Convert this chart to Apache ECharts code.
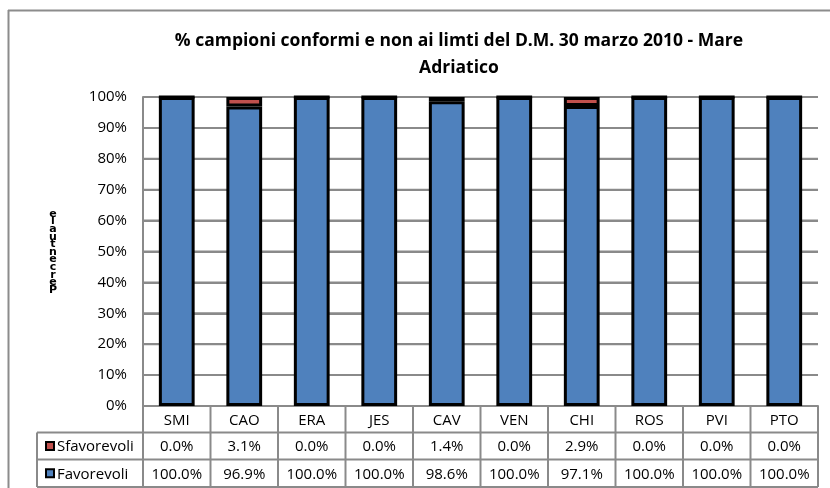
<!DOCTYPE html>
<html>
<head>
<meta charset="utf-8">
<script src="https://cdn.jsdelivr.net/npm/echarts@6/dist/echarts.min.js"></script>
<style>
  html, body { margin: 0; padding: 0; background: #fff; }
  #chart { width: 830px; height: 488px; }
</style>
</head>
<body>
<div id="chart"></div>
<script>
// siti di campionamento
const siti = ['SMI', 'CAO', 'ERA', 'JES', 'CAV', 'VEN', 'CHI', 'ROS', 'PVI', 'PTO'];
const sfavorevoli = [0.0, 3.1, 0.0, 0.0, 1.4, 0.0, 2.9, 0.0, 0.0, 0.0];
const favorevoli = [100.0, 96.9, 100.0, 100.0, 98.6, 100.0, 97.1, 100.0, 100.0, 100.0];
const yTicks = [10, 20, 30, 40, 50, 60, 70, 80, 90, 100];

const FONT = '"Open Sans", Lato, sans-serif';
const GRAY = '#8a8a8a';
const BLUE = '#4F81BD';
const RED = '#C0504D';

const chart = echarts.init(document.getElementById('chart'));

chart.setOption({
  animation: false,
  title: {
    text: '% campioni conformi e non ai limti del D.M. 30 marzo 2010 - Mare\nAdriatico',
    left: 454,
    top: 23,
    textAlign: 'center',
    textStyle: { fontFamily: FONT, fontSize: 17.5, fontWeight: 'bold', color: '#000', lineHeight: 27 }
  },
  grid: { left: 143, right: 12, top: 97, bottom: 82 },
  xAxis: {
    type: 'category',
    data: siti,
    axisLine: { lineStyle: { color: GRAY, width: 2 } },
    axisTick: { show: false },
    axisLabel: { show: false }
  },
  yAxis: {
    type: 'value',
    min: 0,
    max: 100,
    interval: 10,
    axisLine: { show: true, lineStyle: { color: GRAY, width: 2 } },
    axisTick: { show: false },
    axisLabel: { formatter: '{value}%', fontFamily: FONT, fontSize: 15, color: '#000', margin: 16 },
    splitLine: { show: true, lineStyle: { color: GRAY, width: 2 } }
  },
  series: [
    {
      name: 'Favorevoli',
      type: 'bar',
      stack: 'tot',
      zlevel: 2,
      barWidth: '53%',
      data: favorevoli,
      itemStyle: { color: BLUE, borderColor: '#000', borderWidth: 3 }
    },
    {
      name: 'Sfavorevoli',
      type: 'bar',
      stack: 'tot',
      zlevel: 2,
      data: sfavorevoli,
      itemStyle: { color: RED, borderColor: '#000', borderWidth: 3 }
    }
  ]
});

// griglia orizzontale + tabella dati sotto il grafico
function buildTable() {
  const yTop = chart.convertToPixel({ yAxisIndex: 0 }, 0);
  const rows = [yTop, 432.5, 459.5, 487];
  const xs = siti.map((s, i) => chart.convertToPixel({ xAxisIndex: 0 }, i));
  const band = xs.length > 1 ? xs[1] - xs[0] : 60;
  const xLeft = xs[0] - band / 2;
  const xRight = xs[xs.length - 1] + band / 2;
  const legendX = 37;
  const els = [];
  const line = (x1, y1, x2, y2, col, zl) => els.push({
    type: 'line', shape: { x1, y1, x2, y2 }, style: { stroke: col || GRAY, lineWidth: 2 },
    z: 5, zlevel: zl || 0
  });
  const txt = (x, y, t, align) => els.push({
    type: 'text', x, y, style: {
      text: t, fill: '#000', font: '15px ' + FONT, align: align || 'center', verticalAlign: 'middle'
    }, z: 6
  });

  // linee di griglia su un livello proprio, sotto le barre
  yTicks.forEach(v => {
    const y = chart.convertToPixel({ yAxisIndex: 0 }, v);
    line(xLeft, y, xRight, y, GRAY, 1);
  });

  // cornice esterna (solo lati visibili)
  line(8, 10.5, 830, 10.5, '#8c8c8c');
  line(8.5, 10, 8.5, 488, '#8c8c8c');

  // righe orizzontali
  line(legendX, rows[1], xRight, rows[1]);
  line(legendX, rows[2], xRight, rows[2]);
  line(legendX, rows[3], xRight, rows[3]);
  // verticali
  line(legendX, rows[1], legendX, rows[3]);
  line(xLeft, chart.convertToPixel({ yAxisIndex: 0 }, 100), xLeft, rows[3], GRAY, 1);
  for (let i = 1; i <= siti.length; i++) {
    const x = xLeft + band * i;
    line(x, rows[0], x, rows[3]);
  }

  siti.forEach((s, i) => {
    txt(xs[i], (rows[0] + rows[1]) / 2 + 1, s);
    txt(xs[i], (rows[1] + rows[2]) / 2 + 1, sfavorevoli[i].toFixed(1) + '%');
    txt(xs[i], (rows[2] + rows[3]) / 2 + 1, favorevoli[i].toFixed(1) + '%');
  });

  // legenda nella tabella
  [['Sfavorevoli', RED, 1], ['Favorevoli', BLUE, 2]].forEach(([name, col, r]) => {
    const cy = (rows[r] + rows[r + 1]) / 2;
    els.push({ type: 'rect', shape: { x: 46, y: cy - 4, width: 8, height: 8 },
      style: { fill: col, stroke: '#000', lineWidth: 2 }, z: 6 });
    txt(57, cy + 1, name, 'left');
  });

  // etichetta asse Y (testo verticale sovrapposto come nell'originale)
  els.push({
    type: 'text', x: 53, y: 252,
    style: {
      text: 'Percentuale'.split('').reverse().join('\n'),
      font: 'bold 11px "DejaVu Sans", sans-serif', fill: '#000', align: 'center', verticalAlign: 'middle', lineHeight: 7.6
    }, z: 6
  });

  chart.setOption({ graphic: els });
}
buildTable();
</script>
</body>
</html>
